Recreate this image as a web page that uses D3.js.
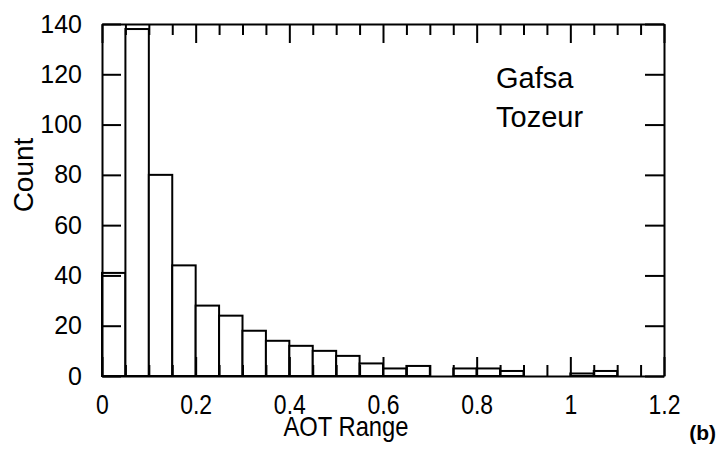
<!DOCTYPE html>
<html>
<head>
<meta charset="utf-8">
<script src="https://cdn.jsdelivr.net/npm/d3@7"></script>
<style>
  body { margin: 0; background: #fff; }
  svg { display: block; }
  text { font-family: "Liberation Sans", Arial, sans-serif; fill: #000; }
</style>
</head>
<body>
<svg id="chart" width="724" height="459"></svg>
<script>
const binStarts = [0, 0.05, 0.1, 0.15, 0.2, 0.25, 0.3, 0.35, 0.4, 0.45, 0.5, 0.55, 0.6, 0.65, 0.7, 0.75, 0.8, 0.85, 0.9, 0.95, 1.0, 1.05, 1.1, 1.15];
const counts = [41, 138, 80, 44, 28, 24, 18, 14, 12, 10, 8, 5, 3, 4, 0, 3, 3, 2, 0, 0, 1, 2, 0, 0];
const binWidth = 0.05;
const xTicks = [0, 0.2, 0.4, 0.6, 0.8, 1, 1.2];
const xMinorTicks = [0.05, 0.1, 0.15, 0.25, 0.3, 0.35, 0.45, 0.5, 0.55, 0.65, 0.7, 0.75, 0.85, 0.9, 0.95, 1.05, 1.1, 1.15];
const yTicks = [0, 20, 40, 60, 80, 100, 120, 140];
const legendLines = ["Gafsa", "Tozeur"];

const svg = d3.select("#chart");
const mLeft = 102, mRight = 664, mTop = 24, mBottom = 376;
const x = d3.scaleLinear().domain([0, 1.2]).range([mLeft, mRight]);
const y = d3.scaleLinear().domain([0, 140]).range([mBottom, mTop]);

// bars
const data = binStarts.map((b, i) => ({ x0: b, x1: b + binWidth, c: counts[i] })).filter(d => d.c > 0);
svg.append("g").selectAll("rect").data(data).join("rect")
  .attr("x", d => x(d.x0))
  .attr("y", d => y(d.c))
  .attr("width", d => x(d.x1) - x(d.x0))
  .attr("height", d => y(0) - y(d.c))
  .attr("fill", "#fff")
  .attr("stroke", "#000")
  .attr("stroke-width", 2);

function styleAxis(g) {
  g.selectAll("path").attr("stroke", "#000").attr("stroke-width", 2);
  g.selectAll("line").attr("stroke", "#000").attr("stroke-width", 2);
}
const fmt = d => String(d);

// bottom axis
const gb = svg.append("g").attr("transform", `translate(0,${mBottom})`)
  .call(d3.axisBottom(x).tickValues(xTicks).tickSize(-19).tickSizeOuter(0).tickFormat(fmt));
gb.selectAll(".tick text")
  .attr("font-size", 28)
  .attr("y", 38).attr("dy", null)
  .attr("transform", "scale(0.82,1)");
styleAxis(gb);
const gbm = svg.append("g").attr("transform", `translate(0,${mBottom})`)
  .call(d3.axisBottom(x).tickValues(xMinorTicks).tickSize(-11).tickSizeOuter(0).tickFormat(""));
gbm.select("path").remove();
styleAxis(gbm);

// top axis
const gt = svg.append("g").attr("transform", `translate(0,${mTop})`)
  .call(d3.axisTop(x).tickValues(xTicks).tickSize(-19).tickSizeOuter(0).tickFormat(""));
styleAxis(gt);
const gtm = svg.append("g").attr("transform", `translate(0,${mTop})`)
  .call(d3.axisTop(x).tickValues(xMinorTicks).tickSize(-11).tickSizeOuter(0).tickFormat(""));
gtm.select("path").remove();
styleAxis(gtm);

// left axis
const gl = svg.append("g").attr("transform", `translate(${mLeft},0)`)
  .call(d3.axisLeft(y).tickValues(yTicks).tickSize(-19).tickSizeOuter(0).tickFormat(fmt));
gl.selectAll(".tick text").attr("font-size", 25).attr("x", -20);
styleAxis(gl);

// right axis
const gr = svg.append("g").attr("transform", `translate(${mRight},0)`)
  .call(d3.axisRight(y).tickValues(yTicks).tickSize(-19).tickSizeOuter(0).tickFormat(""));
styleAxis(gr);

// axis titles
svg.append("text").attr("transform", "translate(346,436) scale(0.88,1)").attr("text-anchor", "middle")
  .attr("font-size", 27).text("AOT Range");
svg.append("text").attr("transform", "translate(33,175) rotate(-90)").attr("text-anchor", "middle")
  .attr("font-size", 28).text("Count");
svg.append("text").attr("x", 716).attr("y", 440).attr("text-anchor", "end")
  .attr("font-size", 21).attr("font-weight", "bold").text("(b)");

// legend labels
svg.append("g").selectAll("text").data(legendLines).join("text")
  .attr("x", 496).attr("y", (d, i) => 88 + i * 39)
  .attr("font-size", 29).text(d => d);
</script>
</body>
</html>
